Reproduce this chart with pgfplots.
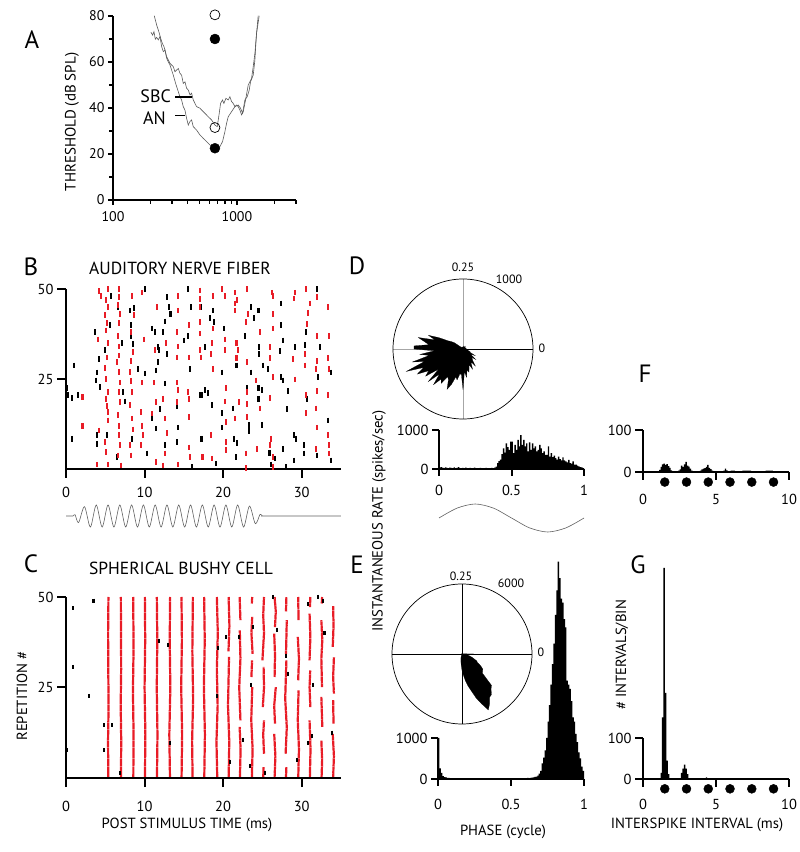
\documentclass[border=0pt]{standalone}
\usepackage{fontspec}
\setmainfont{PT Sans}
\usepackage{pgfplots}
\usepackage{pgfplotstable}
\pgfplotsset{compat=1.18}
\usepgfplotslibrary{polar}
\definecolor{rred}{RGB}{232,28,38}
\newcommand\tf{\fontsize{14.5}{16}\selectfont}
\newcommand\lf{\fontsize{14.7}{16}\selectfont}
\newcommand\ttl{\fontsize{17.5}{19}\selectfont}
\newcommand\letf{\fontsize{25}{27}\selectfont}
\newcommand\pf{\fontsize{12}{13}\selectfont}
\pgfplotsset{
  base/.style={scale only axis, anchor=south west, axis lines*=left, enlargelimits=false, clip=false,
    axis line style={line width=2pt,-}, tick align=outside, major tick length=9pt,
    tick style={line width=2pt,black}, tick label style={font=\tf},
    /pgf/number format/assume math mode=true, /pgf/number format/1000 sep={}, axis on top, unbounded coords=jump},
  rast/.style={only marks, mark=|, mark size=2.8pt, mark options={line width=2.1pt}},
}
\pgfplotstableread[row sep=\\]{ph r\\
0.00 30\\0.01 45\\0.02 35\\0.03 25\\0.04 40\\0.05 30\\0.06 20\\0.07 35\\0.08 30\\0.09 25\\
0.10 40\\0.11 20\\0.12 30\\0.13 45\\0.14 25\\0.15 20\\0.16 30\\0.17 25\\0.18 35\\0.19 20\\
0.20 25\\0.21 30\\0.22 20\\0.23 25\\0.24 35\\0.25 20\\0.26 25\\0.27 15\\0.28 30\\0.29 20\\
0.30 25\\0.31 20\\0.32 30\\0.33 15\\0.34 25\\0.35 20\\0.36 30\\0.37 25\\0.38 35\\0.39 60\\
0.40 150\\0.41 200\\0.42 240\\0.43 380\\0.44 530\\0.45 420\\0.46 660\\0.47 560\\0.48 490\\0.49 700\\
0.50 700\\0.51 410\\0.52 620\\0.53 490\\0.54 745\\0.55 580\\0.56 870\\0.57 620\\0.58 745\\0.59 580\\
0.60 660\\0.61 450\\0.62 680\\0.63 490\\0.64 660\\0.65 530\\0.66 580\\0.67 450\\0.68 490\\0.69 620\\
0.70 530\\0.71 410\\0.72 450\\0.73 360\\0.74 365\\0.75 580\\0.76 320\\0.77 410\\0.78 305\\0.79 340\\
0.80 280\\0.81 240\\0.82 320\\0.83 250\\0.84 220\\0.85 300\\0.86 220\\0.87 195\\0.88 170\\0.89 235\\
0.90 150\\0.91 135\\0.92 195\\0.93 110\\0.94 110\\0.95 85\\0.96 70\\0.97 50\\0.98 40\\0.99 25\\1.00 25\\
}\Dhist
\pgfplotstableread[row sep=\\]{ph r\\
0.00 1000\\0.01 260\\0.02 150\\0.03 70\\0.04 45\\0.05 40\\0.06 30\\0.07 25\\0.08 18\\0.09 15\\
0.10 20\\0.11 12\\0.12 15\\0.13 18\\0.14 10\\0.15 15\\0.16 12\\0.17 15\\0.18 10\\0.19 12\\
0.20 15\\0.21 10\\0.22 12\\0.23 15\\0.24 10\\0.25 12\\0.26 10\\0.27 15\\0.28 12\\0.29 10\\
0.30 12\\0.31 15\\0.32 10\\0.33 12\\0.34 10\\0.35 15\\0.36 12\\0.37 10\\0.38 12\\0.39 15\\
0.40 10\\0.41 12\\0.42 15\\0.43 10\\0.44 12\\0.45 10\\0.46 15\\0.47 12\\0.48 10\\0.49 12\\
0.50 15\\0.51 12\\0.52 10\\0.53 15\\0.54 12\\0.55 15\\0.56 18\\0.57 15\\0.58 20\\0.59 18\\
0.60 20\\0.61 25\\0.62 22\\0.63 30\\0.64 35\\0.65 40\\0.66 50\\0.67 60\\0.68 80\\0.69 130\\
0.70 200\\0.71 380\\0.72 520\\0.73 700\\0.74 1000\\0.75 1400\\0.76 1800\\0.77 2300\\0.78 2800\\0.79 3300\\
0.80 4000\\0.81 4600\\0.82 5300\\0.83 4900\\0.84 4400\\0.85 4300\\0.86 3900\\0.87 3700\\0.88 2400\\0.89 2300\\
0.90 2200\\0.91 1900\\0.92 1500\\0.93 1400\\0.94 1100\\0.95 900\\0.96 650\\0.97 500\\0.98 300\\0.99 200\\1.00 200\\
}\Ehist
\begin{document}
\begin{tikzpicture}
\path[use as bounding box] (0pt,0pt) rectangle (800pt,852pt);
% ---------------- A
\begin{axis}[base, at={(113pt,652pt)}, width=183pt, height=184pt, xmode=log, log basis x=10,
  xmin=100, xmax=3000, ymin=0, ymax=80, xtick={100,1000}, xticklabels={100,1000},
  minor xtick={200,300,400,500,600,700,800,900,2000,3000}, ytick={0,20,40,60,80}, minor ytick={10,30,50,70},
  major tick length=5pt, minor tick length=4pt, axis line style={line width=1.6pt}, tick style={line width=1.3pt},
  tick label style={font=\fontsize{14}{15}\selectfont}, xticklabel style={yshift=-3pt}]
\addplot[gray!70!black, line width=0.6pt] coordinates {(215.4,80.1)(225,76.1)(232.1,73.9)(236.4,72.5)(243.8,69.9)(250,68.1)(257.8,66.7)(262.7,65.2)(271,61.6)(279.4,60.1)(288.3,58.7)(297.2,56.5)(306.6,54.3)(320.2,50.7)(336.5,47.1)(347,44.9)(357.9,43.5)(369,40.6)(380.8,39.1)(392.8,35.5)(405.2,32.6)(418,34.1)(430.9,34.8)(444.5,31.9)(472.8,30.4)(503,28.3)(535.2,26.8)(569.5,25.4)(624.8,23.2)(685.5,21.7)(729.3,23.2)(766.2,25.4)(800,29.7)(825.4,33.3)(851.5,36.2)(905.7,38.4)(963.6,40.6)(1025,41.3)(1070.6,39.9)(1111,37.7)(1160,43.5)(1211.5,44.9)(1257.5,47.8)(1289,51.4)(1354.6,54.3)(1397.6,60.9)(1423,68.1)(1441.5,72.5)(1513.8,80.1)};
\addplot[gray!70!black, line width=0.6pt] coordinates {(202.5,72.9)(208.9,71.7)(214.1,73.2)(219.5,69.9)(225,70.7)(232.1,69.6)(239.3,71)(247,66.7)(254.6,64.5)(262.7,65.2)(271,62.3)(279.4,60.9)(288.3,59.4)(297.2,58.7)(306.6,58)(316.2,55.8)(326.2,56.5)(336.5,57.2)(347,55.1)(357.9,54.3)(369,50.7)(380.8,51.4)(392.8,48.6)(405.2,47.8)(418,45.7)(430.9,46.4)(444.5,43.5)(472.8,40.6)(503,39.9)(535.2,38.4)(552,37.7)(587.5,36.2)(624.8,34.8)(664.5,32.6)(694,31.9)(720.3,37.7)(738.4,42)(766.2,43.5)(785.6,42)(815.2,44.2)(851.5,43.5)(878,44.9)(905.7,42.8)(934,42)(963.6,40.6)(993.8,41.3)(1025,40.6)(1057.4,39.1)(1090.6,37)(1125,38.4)(1175,43.5)(1234.3,50)(1273,51.4)(1313.5,52.9)(1354.6,58)(1397.6,63.8)(1441.5,72.5)(1486,80.1)};
\addplot[only marks, mark=*, mark size=5pt, black] coordinates {(665,70)(665,22.5)};
\addplot[only marks, mark=o, mark size=5pt, mark options={fill=white, line width=0.7pt}, black] coordinates {(665,80.5)(665,31.5)};
\end{axis}
% ---------------- B
\begin{axis}[base, at={(66pt,383pt)}, width=275pt, height=180pt, xmin=0, xmax=35, ymin=0, ymax=50,
  xtick={0,10,20,30}, ytick={25,50}, xticklabel style={yshift=-6pt}]
\addplot[rast, black] coordinates {(10.1,50)(15.5,50)(5.7,48)(12.9,47.8)(6.6,45)(8.6,44.7)(13.1,45)(15.95,45)(8.1,44)(13.3,43)(5.6,40)(8.3,40)(12.6,41)(11.0,39)(3.7,38)(11.3,38)(12.4,38)(15.5,37)(15.0,35.7)(8.3,37)(7.1,35)(8.5,34.8)(11.7,33.9)(5.0,33)(11.8,33)(12.9,32)(4.2,30.6)(11.7,29.7)(1.0,28.8)(9.2,27.7)(11.4,27.4)(15.8,27.7)(4.0,26.8)(3.8,24.6)(10.1,26.5)(0.1,22.5)(4.3,22.8)(0.25,20.5)(0.8,19.7)(1.5,20.5)(12.6,23.7)(7.3,21.4)(7.55,18.8)(12.0,16.6)(14.1,17.5)(17.1,20.5)(11.0,14)(14.3,11.5)(11.4,11.2)(4.0,9.4)(5.2,9.4)(0.8,8.4)(8.4,8.4)(3.9,7)(12.6,6.6)(14.1,7.5)(17.2,8.4)(10.3,4.3)(6.5,3.3)(16.0,0.6)
(32.0,50)(27.4,46)(23.6,45)(24.5,44)(23.9,42)(17.2,45)(18.7,44)(18.3,42)(18.8,40.8)(20.1,39)(27.4,40)(22.8,37)(30.6,38)(27.6,35.7)(30.4,34.5)(32.3,33.9)(17.7,33.9)(24.6,33.9)(24.6,31.9)(29.1,33.9)(27.2,32.8)(21.7,28.8)(25.1,28.8)(25.7,27.7)(19.9,26.8)(23.5,26.8)(27.4,25.6)(27.6,24.6)(33.7,26.8)(32.1,25.6)(17.7,21.9)(18.1,21.1)(17.3,20.5)(24.5,22.5)(25.0,21.9)(28.2,21.6)(23.0,22.5)(30.7,19.5)(24.5,19.5)(18.6,17.7)(21.3,16.8)(28.1,16.6)(19.9,15.6)(23.3,12.3)(19.9,11.5)(23.3,10.5)(24.9,12.3)(33.4,13.5)(17.3,8.4)(21.4,8.4)(21.8,7.3)(29.0,9.4)(29.3,8.4)(30.3,6.6)(27.6,5.6)(31.9,3.8)(30.3,4.3)(25.9,4.5)(21.6,3.3)(26.6,2.9)(33.7,2.4)(19.1,1.5)(26.1,1.2)(29.0,2.4)(28.0,0.6)};
\addplot[rast, rred] coordinates {(4.2,49.4)(5.4,50)(5.1,47)(5.3,45)(5.0,42.7)(5.2,40.5)(5.1,38.5)(5.3,35)(4.1,36)(5.2,31)(5.0,28)(5.1,25)(5.3,21.4)(5.1,19.5)(5.2,17.5)(5.4,15.8)(5.3,13.5)(4.2,10.7)(5.0,7.5)(5.1,4.7)(5.3,1.2)(2.1,20)(2.1,12)(4.0,1.2)(4.4,48)
(6.8,50)(6.8,47.8)(6.6,45.5)(6.9,43)(6.7,40.5)(6.6,37)(6.7,34)(6.8,31.5)(6.5,29.7)(6.8,27)(6.9,24)(6.7,21.4)(6.9,18.6)(6.6,15)(6.8,12)(6.7,9.4)(6.9,6.6)(6.6,3.8)(7.0,1)
(8.4,48)(8.6,42.7)(8.3,38)(8.5,32.5)(8.3,30)(8.1,27)(8.3,24.5)(8.4,21.4)(8.2,17.7)(8.4,14)(8.5,11)(8.2,6.6)(8.3,3.8)
(9.7,49)(9.9,36)(9.7,24)(9.6,15.8)(9.7,12)(9.6,6.6)(9.8,9.4)
(11.6,45)(11.2,24)(11.4,18.6)(11.0,15.4)(11.4,2)(11.3,33)
(12.7,35)(12.4,19.5)(12.6,14)(12.9,10)(12.6,4.3)(12.4,1)
(14.2,48)(14.3,44)(14.1,38)(14.2,34)(14.1,31)(14.1,24)(14.3,22)(14.1,18.6)(14.2,1.2)
(15.6,40)(15.6,31)(15.5,21.4)(15.6,19.5)(15.6,14.4)(15.6,6)(15.8,3.3)
(17.0,49.6)(17.0,47.3)(17.1,45)(17.1,40.8)(17.1,37.6)(17.1,33)(17.2,31)(17.3,3.3)
(19.9,50)(23.0,50)(26.2,49)(29.1,49)(30.6,50)(18.7,48)(21.5,49)(20.2,48)(21.8,47)(26.4,48)(29.0,47.4)(31.9,47.8)(21.5,46)(21.5,44)(23.2,43)(26.3,43)(31.0,46)(33.3,45)(30.8,43.4)(17.0,40.8)(18.7,39)(22.9,40.8)(24.7,38)(26.3,39)(30.7,40.3)(31.9,37)(33.5,37)(20.2,36)(21.7,35)(18.6,35)(18.5,32)(20.2,33)(21.9,33)(26.0,33.9)(21.7,30.8)(23.0,29.7)(26.0,30.8)(28.9,30.6)(30.4,32)(31.9,30)(33.4,30.8)(18.7,27.7)(26.3,25.6)(29.1,24.9)(30.4,28.8)(31.8,27.7)(33.5,27.7)(20.4,22.5)(23.0,21.4)(24.2,24.6)(30.6,20.6)(31.9,21.6)(33.4,20.6)(26.0,19.7)(20.2,18.7)(23.0,18.1)(22.0,18.6)(24.7,16.8)(30.5,15.6)(31.8,16.8)(23.0,14.4)(20.4,13)(21.5,14)(31.9,11.5)(18.5,9.5)(20.4,7.5)(26.1,8.4)(26.0,6.6)(33.4,9.4)(33.5,6.6)(31.8,5.5)(24.3,5.6)(22.9,4.3)(20.4,5.2)(17.4,3.3)(18.6,2.9)(26.4,3.3)(33.5,4.3)(22.9,0.3)(26.4,0.6)};
\end{axis}
% stimulus
\begin{axis}[scale only axis, anchor=south west, at={(66pt,325pt)}, width=275pt, height=22pt, xmin=0, xmax=35, ymin=-1, ymax=1, hide axis, clip=false]
\addplot[smooth, gray!75!black, line width=0.6pt] coordinates {(0,0)(0.5,0)(0.9,0)(1.15,0.12)(1.6,-0.6)(2.35,0.85)(3.1,-1)(3.85,1)(4.6,-1)(5.35,1)(6.1,-1)(6.85,1)(7.6,-1)(8.35,1)(9.1,-1)(9.85,1)(10.6,-1)(11.35,1)(12.1,-1)(12.85,1)(13.6,-1)(14.35,1)(15.1,-1)(15.85,1)(16.6,-1)(17.35,1)(18.1,-1)(18.85,1)(19.6,-1)(20.35,1)(21.1,-1)(21.85,1)(22.6,-1)(23.35,0.9)(24.1,-0.7)(24.7,0.15)(25.0,0)(25.6,0)(35,0)};
\end{axis}
% ---------------- C
\begin{axis}[base, at={(66pt,74pt)}, width=275pt, height=181pt, xmin=0, xmax=35, ymin=0, ymax=50,
  xtick={0,10,20,30}, ytick={25,50}, xticklabel style={yshift=-11pt}]
\addplot[rred, line width=2.2pt, dash pattern=on 3.3pt off 0.35pt] coordinates {
(5.39,0.3)(5.35,10)(5.42,20)(5.38,30)(5.36,40)(5.4,50)(5.4,nan)
(6.99,0.3)(7.03,10)(6.96,20)(7.02,30)(7.0,40)(6.98,50)(7,nan)
(8.57,0.3)(8.6,12)(8.52,24)(8.6,36)(8.55,50)(8.5,nan)
(10.05,0.3)(10.1,12)(10.0,25)(10.08,38)(10.04,50)(10,nan)
(11.58,0.3)(11.64,12)(11.55,25)(11.62,38)(11.56,50)(11.5,nan)
(13.23,0.3)(13.15,12)(13.28,25)(13.2,38)(13.25,50)(13,nan)
(14.71,0.3)(14.78,12)(14.66,25)(14.75,38)(14.7,50)(14.7,nan)
(16.11,0.3)(16.05,10)(16.18,22)(16.08,35)(16.15,50)(16,nan)
(17.6,0.3)(17.68,12)(17.55,25)(17.66,38)(17.58,50)(17.6,nan)
(19.25,0.3)(19.15,10)(19.3,20)(19.2,30)(19.32,40)(19.2,50)(19.2,nan)
(20.7,0.3)(20.78,10)(20.62,20)(20.75,33.5)(20.7,nan)(20.68,35)(20.8,42)(20.7,50)(20.7,nan)
(22.14,0.3)(22.22,8)(22.1,14.1)(22.1,nan)(22.2,15.9)(22.05,25)(22.2,33)(22.12,40.8)(22.1,nan)(22.2,43.6)(22.1,50)(22.1,nan)
(23.66,0.3)(23.75,8)(23.58,16)(23.7,25.1)(23.7,nan)(23.6,27.9)(23.68,32.5)(23.7,nan)(23.75,34.3)(23.6,40)(23.7,44.5)(23.7,nan)(23.65,48.2)(23.7,50)(23.7,nan)
(25.1,0.3)(25.15,3)(25.15,nan)(25.2,6.7)(25.1,12)(25.2,15.9)(25.2,nan)(25.05,19.6)(25.2,25)(25.15,30.7)(25.1,nan)(25.0,32.5)(25.2,40)(25.1,45)(25.2,50)(25.2,nan)
(26.55,0.3)(26.65,6)(26.5,12.2)(26.5,nan)(26.6,15)(26.5,20)(26.7,25.1)(26.7,nan)(26.55,27.9)(26.6,34)(26.5,39.9)(26.5,nan)(26.6,41.7)(26.7,46)(26.55,50)(26.5,nan)
(28.0,0.3)(28.05,3)(28.05,nan)(27.95,6.7)(28.1,14)(27.9,22)(28.05,32.5)(28.05,nan)(28.0,34.3)(28.1,43.6)(28.1,nan)(28.0,46)(28.05,50)(28,nan)
(29.56,0.3)(29.65,8)(29.5,16)(29.6,24.2)(29.6,nan)(29.55,27)(29.65,33)(29.5,39)(29.5,nan)(29.6,43.6)(29.55,50)(29.5,nan)
(31.04,0.3)(31.12,8)(31.0,15.9)(31.0,nan)(31.1,19.6)(31.0,25)(31.08,29.7)(31.08,nan)(31.0,32.5)(31.1,39)(31.0,45.4)(31.0,nan)(31.05,47.2)(31.1,50)(31,nan)
(32.53,0.3)(32.6,5)(32.5,10.4)(32.5,nan)(32.62,14.1)(32.5,22.4)(32.5,nan)(32.58,25.1)(32.5,33)(32.62,38)(32.5,43.6)(32.5,nan)(32.55,48.2)(32.6,50)(32.6,nan)
(34.0,0.3)(34.1,6)(33.95,12.2)(33.95,nan)(34.05,15)(34.0,21.5)(34.0,nan)(34.1,23.3)(34.0,28)(34.1,33.4)(34.1,nan)(33.95,36.2)(34.05,42)(34.0,47.5)};
\addplot[only marks, mark=|, mark size=2pt, mark options={line width=2.1pt}, black] coordinates {(3.5,49)(0.85,46.9)(0.85,30.7)(2.97,22.7)(4.83,14.6)(5.9,14.6)(4.83,7.6)(0.1,7.6)(6.9,1.3)(11.8,37.9)(13.0,36.8)(13.2,9.6)(19.4,35.8)(19.25,22.7)(20.4,39)(22.0,39)(20.9,4.3)(22.5,10.5)(23.4,3.4)(23.8,41.8)(23.5,25.7)(25.3,1.5)(26.4,50)(26.8,41)(28.0,33.8)(28.3,28.8)(29.4,4.9)(30.8,48.1)(32.1,50)(32.7,49)(32.9,40)(31.4,25.7)(31.3,11.6)(30.8,9.8)(33.8,12.5)};
\end{axis}
% ---------------- D polar
\begin{polaraxis}[at={(463pt,503pt)}, anchor=center, scale only axis, width=140pt, height=140pt,
  ymin=0, ymax=1000, xtick={0,90,180,270}, xticklabels={}, ytick=\empty, yticklabels={}, xmajorgrids,
  major grid style={draw=gray!70, line width=0.8pt}, axis line style={line width=0.7pt}, major tick length=0pt, clip=false]
\addplot[fill=black, draw=black, line width=0.2pt] table[x expr=\thisrow{ph}*360, y=r] {\Dhist};
\end{polaraxis}
% D histogram
\begin{axis}[base, at={(439pt,383pt)}, width=145pt, height=39pt, xmin=0, xmax=1, ymin=0, ymax=1000,
  xtick={0,0.5,1}, xticklabels={0,0.5,1}, ytick={0,1000}, yticklabels={0,1000}, major tick length=7pt, xticklabel style={yshift=-6pt}]
\addplot[const plot, fill=black, draw=none] table[x=ph, y=r] {\Dhist} \closedcycle;
\end{axis}
\begin{axis}[scale only axis, anchor=south west, at={(439pt,320pt)}, width=145pt, height=28pt, xmin=0, xmax=1, ymin=-1, ymax=1, hide axis, clip=false]
\addplot[smooth, gray!75!black, line width=0.6pt] coordinates {(0,0)(0.125,0.707)(0.25,1)(0.375,0.707)(0.5,0)(0.625,-0.707)(0.75,-1)(0.875,-0.707)(1,0)};
\end{axis}
% ---------------- E polar
\begin{polaraxis}[at={(462pt,198pt)}, anchor=center, scale only axis, width=140pt, height=140pt,
  ymin=0, ymax=6000, xtick={0,90,180,270}, xticklabels={}, ytick=\empty, yticklabels={}, xmajorgrids,
  major grid style={draw=black, line width=0.6pt}, axis line style={line width=0.7pt}, major tick length=0pt, clip=false]
\addplot[fill=black, draw=black, line width=0.2pt] table[x expr=\thisrow{ph}*360, y=r] {\Ehist};
\end{polaraxis}
\begin{axis}[base, at={(438pt,73pt)}, width=146pt, height=41pt, xmin=0, xmax=1, ymin=0, ymax=1000,
  xtick={0,0.5,1}, xticklabels={0,0.5,1}, ytick={0,1000}, yticklabels={0,1000}, major tick length=7pt, xticklabel style={yshift=-10pt}]
\addplot[const plot, fill=black, draw=none] table[x=ph, y=r] {\Ehist} \closedcycle;
\end{axis}
% ---------------- F
\begin{axis}[base, at={(643pt,380pt)}, width=146pt, height=42pt, xmin=0, xmax=10, ymin=0, ymax=100,
  xtick={0,5,10}, ytick={0,100}, major tick length=8pt, xticklabel style={yshift=-11pt}]
\addplot[const plot, fill=black, draw=none] coordinates {(0,0)(1.1,5)(1.2,12)(1.3,18)(1.4,20)(1.5,17)(1.6,19)(1.7,14)(1.8,10)(1.9,4)(2.0,0)(2.4,3)(2.5,6)(2.6,15)(2.7,12)(2.8,18)(2.9,24)(3.0,15)(3.1,13)(3.2,8)(3.3,3)(3.4,0)(3.9,3)(4.0,6)(4.1,8)(4.2,9)(4.3,12)(4.4,17)(4.5,10)(4.6,7)(4.7,3)(4.8,0)(5.5,3)(5.6,8)(5.7,4)(5.8,0)(6.0,3)(6.3,0)(6.8,3)(7.4,0)(8.4,3)(8.9,0)(10,0)} \closedcycle;
\addplot[only marks, mark=*, mark size=4.5pt, black] coordinates {(1.49,-24)(2.98,-24)(4.47,-24)(5.96,-24)(7.45,-24)(8.94,-24)};
\end{axis}
% ---------------- G
\begin{axis}[base, at={(643pt,73pt)}, width=146pt, height=41pt, xmin=0, xmax=10, ymin=0, ymax=100,
  xtick={0,5,10}, ytick={0,100}, major tick length=8pt, xticklabel style={yshift=-9pt}]
\addplot[const plot, fill=black, draw=none] coordinates {(0,0)(1.2,15)(1.3,150)(1.4,515)(1.5,210)(1.6,45)(1.7,12)(1.8,0)(2.6,15)(2.7,25)(2.8,35)(2.9,25)(3.0,12)(3.1,0)(4.3,4)(4.4,0)(10,0)} \closedcycle;
\addplot[only marks, mark=*, mark size=4.5pt, black] coordinates {(1.49,-24)(2.98,-24)(4.47,-24)(5.96,-24)(7.45,-24)(8.94,-24)};
\end{axis}
% ---------------- texts
\node[font=\letf] at (32pt,812pt) {A};
\node[font=\letf] at (31pt,585pt) {B};
\node[font=\letf] at (31pt,288pt) {C};
\node[font=\letf] at (357pt,586pt) {D};
\node[font=\letf] at (357pt,287pt) {E};
\node[font=\letf] at (645pt,478pt) {F};
\node[font=\letf] at (638pt,287pt) {G};
\node[font=\ttl] at (180pt,584pt) {AUDITORY NERVE FIBER};
\node[font=\ttl] at (181pt,284pt) {SPHERICAL BUSHY CELL};
\node[font=\lf] at (187pt,27pt) {POST STIMULUS TIME (ms)};
\node[font=\lf, rotate=90] at (22pt,156pt) {REPETITION \#};
\node[font=\fontsize{15}{16}\selectfont, rotate=90] at (72pt,730pt) {THRESHOLD (dB SPL)};
\node[font=\fontsize{18}{19}\selectfont, anchor=east, inner sep=0pt] at (171pt,756pt) {SBC};
\node[font=\fontsize{18}{19}\selectfont, anchor=east, inner sep=0pt] at (166pt,734pt) {AN};
\draw[line width=1.5pt] (175pt,755pt) -- (192pt,755pt);
\draw[line width=1.5pt] (175pt,736.5pt) -- (185pt,736.5pt);
\node[font=\lf, rotate=90] at (379pt,331pt) {INSTANTANEOUS RATE (spikes/sec)};
\node[font=\lf] at (503pt,20pt) {PHASE (cycle)};
\node[font=\lf] at (697pt,27pt) {INTERSPIKE INTERVAL (ms)};
\node[font=\lf, rotate=90] at (622pt,197pt) {\# INTERVALS/BIN};
\node[font=\pf] at (463pt,585pt) {0.25};
\node[font=\pf] at (509pt,573pt) {1000};
\node[font=\pf] at (542pt,504pt) {0};
\node[font=\pf] at (461pt,276pt) {0.25};
\node[font=\pf] at (511pt,269pt) {6000};
\node[font=\pf] at (541pt,200pt) {0};
\end{tikzpicture}
\end{document}
